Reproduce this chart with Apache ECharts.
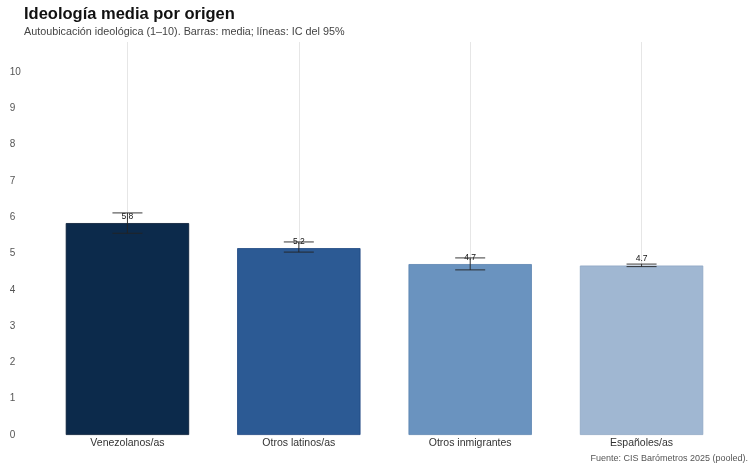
<!DOCTYPE html>
<html><head><meta charset="utf-8">
<script src="https://cdn.jsdelivr.net/npm/echarts@6/dist/echarts.min.js"></script>
<style>html,body{margin:0;padding:0;background:#fff}#c{width:754px;height:471px}</style>
</head><body><div id="c"></div>
<script>
const categories = ['Venezolanos/as', 'Otros latinos/as', 'Otros inmigrantes', 'Españoles/as'];
const means = [5.84, 5.15, 4.71, 4.67];
const ciLow = [5.56, 5.04, 4.55, 4.64];
const ciHigh = [6.12, 5.32, 4.88, 4.71];
const labels = ['5.8', '5.2', '4.7', '4.7'];
const yTicks = [0,1,2,3,4,5,6,7,8,9,10];
const colors = ['#0c2a4b', '#2c5a94', '#6a93bf', '#a0b7d2'];
const borders = ['#061a33', '#1d4580', '#5a83b0', '#8fa7c4'];

const chart = echarts.init(document.getElementById('c'));
const font = 'Liberation Sans, Helvetica, Arial, sans-serif';
chart.setOption({
  animation: false,
  textStyle: { fontFamily: font },
  title: [
    { text: 'Ideología media por origen', left: 19, top: 1,
      textStyle: { fontSize: 16.5, fontWeight: 'bold', color: '#111', fontFamily: font } },
    { text: 'Autoubicación ideológica (1–10). Barras: media; líneas: IC del 95%', left: 19, top: 22,
      textStyle: { fontSize: 10.8, fontWeight: 'normal', color: '#444', fontFamily: font } },
    { text: 'Fuente: CIS Barómetros 2025 (pooled).', right: 1, top: 449,
      textStyle: { fontSize: 9, fontWeight: 'normal', color: '#555', fontFamily: font } }
  ],
  grid: { left: 41.75, right: 26.75, top: 42, bottom: 36 },
  xAxis: {
    type: 'category', data: categories,
    axisLine: { show: false }, axisTick: { show: false },
    axisLabel: { fontSize: 10.5, color: '#333', margin: 3, fontFamily: font },
    splitLine: { show: false }
  },
  yAxis: {
    type: 'value', min: 0, max: 10.83, interval: 1,
    axisLine: { show: false }, axisTick: { show: false },
    splitLine: { show: false },
    axisLabel: { align: 'left', margin: 32, fontSize: 10, color: '#555', fontFamily: font,
      formatter: v => yTicks.includes(v) ? String(v) : '' }
  },
  series: [
    {
      type: 'bar', barWidth: '72%',
      data: means.map((m, i) => ({ value: m,
        itemStyle: { color: colors[i], borderColor: borders[i], borderWidth: 0.8 } })),
      label: { show: true, position: 'top', distance: 2, fontSize: 8.5, color: '#111',
        formatter: p => labels[p.dataIndex] },
      markLine: {
        silent: true, symbol: 'none', label: { show: false },
        lineStyle: { color: '#e6e6e6', width: 1, type: 'solid' },
        data: categories.map(c => ({ xAxis: c })),
        z: 0
      },
      z: 2
    },
    {
      type: 'custom',
      data: categories.map((c, i) => [i, ciLow[i], ciHigh[i]]),
      renderItem: (params, api) => {
        const i = api.value(0);
        const lo = api.coord([i, api.value(1)]);
        const hi = api.coord([i, api.value(2)]);
        const hw = 15;
        const st = { stroke: '#222', lineWidth: 0.9 };
        return { type: 'group', children: [
          { type: 'line', shape: { x1: lo[0], y1: lo[1], x2: hi[0], y2: hi[1] }, style: st },
          { type: 'line', shape: { x1: hi[0]-hw, y1: hi[1], x2: hi[0]+hw, y2: hi[1] }, style: st },
          { type: 'line', shape: { x1: lo[0]-hw, y1: lo[1], x2: lo[0]+hw, y2: lo[1] }, style: st }
        ]};
      },
      z: 3
    }
  ]
});
</script></body></html>
